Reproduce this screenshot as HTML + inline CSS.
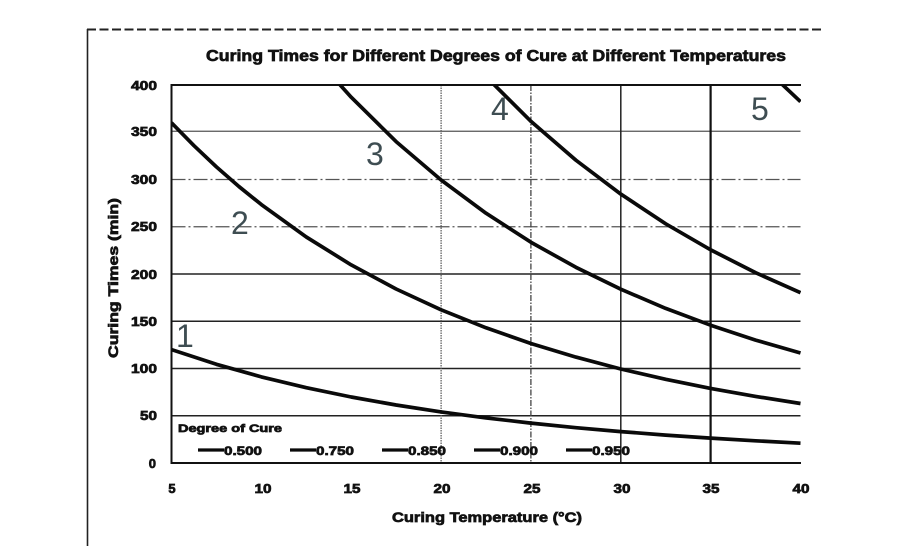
<!DOCTYPE html>
<html>
<head>
<meta charset="utf-8">
<style>
html,body{margin:0;padding:0;background:#fff;}
svg{display:block;}
text{font-family:"Liberation Sans",Arial,sans-serif;}
.b{stroke:#111;stroke-width:0.7;paint-order:stroke;}
</style>
</head>
<body>
<svg width="900" height="550" viewBox="0 0 900 550" xmlns="http://www.w3.org/2000/svg">
<rect x="0" y="0" width="900" height="550" fill="#fff"/>
<!-- outer frame -->
<line x1="87.5" y1="29" x2="87.5" y2="546" stroke="#222" stroke-width="1.6"/>
<line x1="87" y1="29.5" x2="823" y2="29.5" stroke="#222" stroke-width="2" stroke-dasharray="9 3.5"/>

<!-- title -->
<text class="b" x="496" y="61" text-anchor="middle" font-size="16" font-weight="bold" fill="#111" textLength="580" lengthAdjust="spacingAndGlyphs">Curing Times for Different Degrees of Cure at Different Temperatures</text>

<!-- horizontal grid -->
<line x1="171.5" y1="131.25" x2="800.5" y2="131.25" stroke="#555" stroke-width="1.2"/>
<line x1="171.5" y1="179.5" x2="800.5" y2="179.5" stroke="#555" stroke-width="1.3" stroke-dasharray="14 3 2 3"/>
<line x1="171.5" y1="226.75" x2="800.5" y2="226.75" stroke="#555" stroke-width="1.3" stroke-dasharray="14 3 2 3"/>
<line x1="171.5" y1="274" x2="800.5" y2="274" stroke="#222" stroke-width="1.6"/>
<line x1="171.5" y1="321.25" x2="800.5" y2="321.25" stroke="#222" stroke-width="1.6"/>
<line x1="171.5" y1="368.5" x2="800.5" y2="368.5" stroke="#222" stroke-width="1.6"/>
<line x1="171.5" y1="415.75" x2="800.5" y2="415.75" stroke="#222" stroke-width="1.6"/>

<!-- vertical grid -->
<line x1="441.1" y1="85" x2="441.1" y2="463" stroke="#555" stroke-width="1.2" stroke-dasharray="1.5 1"/>
<line x1="530.9" y1="85" x2="530.9" y2="463" stroke="#444" stroke-width="1.3" stroke-dasharray="6 1.5 1.5 1.5"/>
<line x1="620.8" y1="85" x2="620.8" y2="463" stroke="#222" stroke-width="1.5"/>
<line x1="710.6" y1="85" x2="710.6" y2="463" stroke="#111" stroke-width="2.2"/>

<!-- axes -->
<line x1="170.5" y1="85" x2="801" y2="85" stroke="#111" stroke-width="2"/>
<line x1="171.5" y1="84" x2="171.5" y2="464" stroke="#111" stroke-width="2"/>
<line x1="170.5" y1="463" x2="801" y2="463" stroke="#111" stroke-width="2"/>

<defs>
<clipPath id="pc"><rect x="171.5" y="85" width="629.5" height="378"/></clipPath>
</defs>
<g clip-path="url(#pc)" fill="none" stroke="#0a0a0a" stroke-width="3.7" stroke-linejoin="round" stroke-linecap="butt">
<polyline points="171.5,349.6 216.4,364.3 261.4,376.9 306.3,387.7 351.2,397.0 396.1,405.0 441.1,411.9 486.0,417.9 530.9,423.1 575.9,427.7 620.8,431.6 665.7,435.1 710.6,438.1 755.6,440.8 800.5,443.2"/>
<polyline points="171.5,122.8 194.0,145.7 216.4,166.9 238.9,186.5 261.4,204.6 306.3,237.0 351.2,264.9 396.1,289.0 441.1,309.8 486.0,327.8 530.9,343.5 575.9,357.1 620.8,369.0 665.7,379.3 710.6,388.4 755.6,396.4 800.5,403.5"/>
<polyline points="261.4,-14.2 306.3,45.7 328.7,72.3 351.2,97.2 396.1,141.6 441.1,180.0 486.0,213.2 530.9,242.2 575.9,267.3 620.8,289.2 665.7,308.4 710.6,325.2 755.6,340.1 800.5,353.0"/>
<polyline points="396.1,-34.4 441.1,25.0 486.0,76.6 530.9,121.3 575.9,160.2 620.8,194.1 665.7,223.8 710.6,249.8 755.6,272.7 800.5,292.7"/>
<polyline points="710.6,10.8 755.6,59.3 800.5,101.7"/>
</g>

<!-- curve number labels -->
<g font-size="32" fill="#3e4d52">
<text x="176" y="347">1</text>
<text x="231" y="234">2</text>
<text x="366" y="165">3</text>
<text x="491" y="120">4</text>
<text x="751" y="120">5</text>
</g>

<!-- y tick labels -->
<g class="b" font-size="13" font-weight="bold" fill="#111" text-anchor="end">
<text x="157" y="90" textLength="26" lengthAdjust="spacingAndGlyphs">400</text>
<text x="157" y="136" textLength="26" lengthAdjust="spacingAndGlyphs">350</text>
<text x="157" y="184" textLength="26" lengthAdjust="spacingAndGlyphs">300</text>
<text x="157" y="231" textLength="26" lengthAdjust="spacingAndGlyphs">250</text>
<text x="157" y="279" textLength="26" lengthAdjust="spacingAndGlyphs">200</text>
<text x="157" y="326" textLength="26" lengthAdjust="spacingAndGlyphs">150</text>
<text x="157" y="373" textLength="26" lengthAdjust="spacingAndGlyphs">100</text>
<text x="157" y="420" textLength="17" lengthAdjust="spacingAndGlyphs">50</text>
<text x="156" y="468">0</text>
</g>

<!-- x tick labels -->
<g class="b" font-size="13" font-weight="bold" fill="#111" text-anchor="middle">
<text x="172" y="493">5</text>
<text x="263" y="493" textLength="17" lengthAdjust="spacingAndGlyphs">10</text>
<text x="352" y="493" textLength="17" lengthAdjust="spacingAndGlyphs">15</text>
<text x="442" y="493" textLength="17" lengthAdjust="spacingAndGlyphs">20</text>
<text x="532" y="493" textLength="17" lengthAdjust="spacingAndGlyphs">25</text>
<text x="622" y="493" textLength="17" lengthAdjust="spacingAndGlyphs">30</text>
<text x="711" y="493" textLength="17" lengthAdjust="spacingAndGlyphs">35</text>
<text x="801" y="493" textLength="17" lengthAdjust="spacingAndGlyphs">40</text>
</g>

<!-- axis titles -->
<text class="b" x="487" y="522" text-anchor="middle" font-size="14" font-weight="bold" fill="#111" textLength="190" lengthAdjust="spacingAndGlyphs">Curing Temperature (°C)</text>
<text class="b" transform="translate(118,278) rotate(-90)" text-anchor="middle" font-size="14" font-weight="bold" fill="#111" textLength="160" lengthAdjust="spacingAndGlyphs">Curing Times (min)</text>

<!-- legend -->
<text class="b" x="178" y="432" font-size="11" font-weight="bold" fill="#111" textLength="104" lengthAdjust="spacingAndGlyphs">Degree of Cure</text>
<g stroke="#0a0a0a" stroke-width="3.2">
<line x1="198" y1="450" x2="224" y2="450"/>
<line x1="290" y1="450" x2="316" y2="450"/>
<line x1="382" y1="450" x2="408" y2="450"/>
<line x1="474" y1="450" x2="500" y2="450"/>
<line x1="566" y1="450" x2="592" y2="450"/>
</g>
<g class="b" font-size="12" font-weight="bold" fill="#111">
<text x="224" y="455" textLength="38" lengthAdjust="spacingAndGlyphs">0.500</text>
<text x="316" y="455" textLength="38" lengthAdjust="spacingAndGlyphs">0.750</text>
<text x="408" y="455" textLength="38" lengthAdjust="spacingAndGlyphs">0.850</text>
<text x="500" y="455" textLength="38" lengthAdjust="spacingAndGlyphs">0.900</text>
<text x="592" y="455" textLength="38" lengthAdjust="spacingAndGlyphs">0.950</text>
</g>
</svg>
</body>
</html>
